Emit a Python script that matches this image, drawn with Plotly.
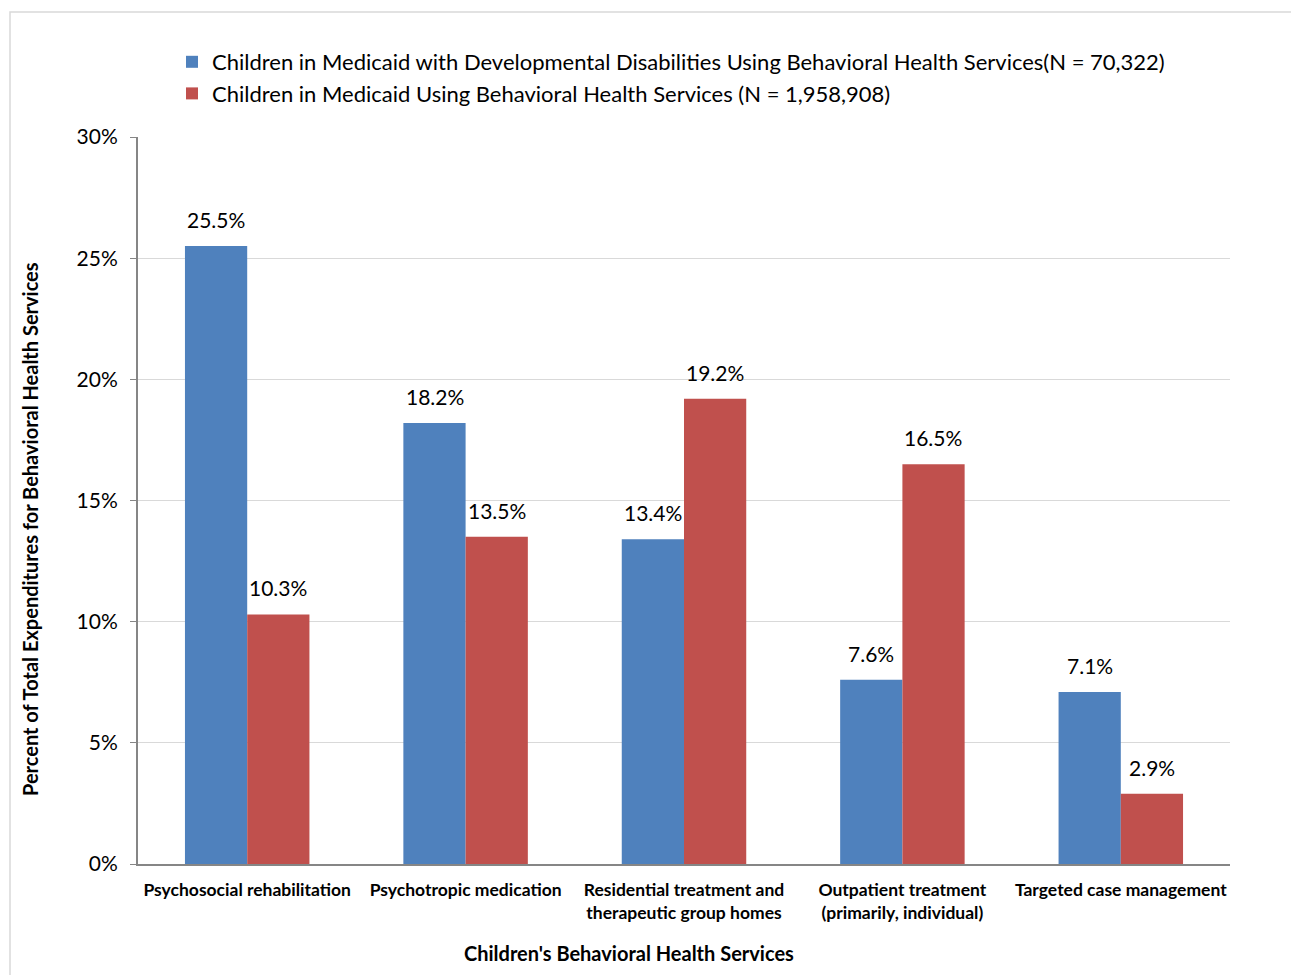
import plotly.graph_objects as go

categories = [
    "Psychosocial rehabilitation",
    "Psychotropic medication",
    "Residential treatment and<br>therapeutic group homes",
    "Outpatient treatment<br>(primarily, individual)",
    "Targeted case management",
]
dd_values = [25.5, 18.2, 13.4, 7.6, 7.1]
all_values = [10.3, 13.5, 19.2, 16.5, 2.9]
series_names = [
    "Children in Medicaid with Developmental Disabilities Using Behavioral Health Services(N = 70,322)",
    "Children in Medicaid Using Behavioral Health Services (N = 1,958,908)",
]
series_colors = ["#4F81BD", "#C0504D"]
tick_vals = [0, 5, 10, 15, 20, 25, 30]
tick_text = ["0%", "5%", "10%", "15%", "20%", "25%", "30%"]

FONT = "Lato, Carlito, Calibri, sans-serif"

W, H = 1291, 975
L, R, T, B = 138, 61, 137, 111
pw, ph = W - L - R, H - T - B
BAR_HALF = 31  # half the pixel width of one bar in a group

fig = go.Figure()
annotations = []
for i, (name, vals, color) in enumerate(zip(series_names, [dd_values, all_values], series_colors)):
    fig.add_trace(go.Bar(
        x=categories, y=vals, name=name,
        marker=dict(color=color, line=dict(width=0)),
    ))
    shift = -BAR_HALF if i == 0 else BAR_HALF
    for c, v in zip(categories, vals):
        annotations.append(dict(
            x=c, y=v, xref="x", yref="y", text=f"{v:.1f}%",
            showarrow=False, xshift=shift, yshift=12, yanchor="bottom",
            font=dict(family=FONT, size=21, color="#000000"),
        ))

# axis titles placed as free text
annotations.append(dict(
    x=(629 - L) / pw, y=1 - (953 - T) / ph, xref="paper", yref="paper",
    text="<b>Children's Behavioral Health Services</b>", showarrow=False,
    xanchor="center", yanchor="middle",
    font=dict(family=FONT, size=20, color="#000000"),
))
annotations.append(dict(
    x=(30 - L) / pw, y=1 - (529 - T) / ph, xref="paper", yref="paper",
    text="<b>Percent of Total Expenditures for Behavioral Health Services</b>",
    showarrow=False, textangle=-90, xanchor="center", yanchor="middle",
    font=dict(family=FONT, size=20, color="#000000"),
))

fig.update_layout(
    width=W, height=H,
    margin=dict(l=L, r=R, t=T, b=B),
    paper_bgcolor="white", plot_bgcolor="white",
    barmode="group", bargap=0.43, bargroupgap=0,
    font=dict(family=FONT, color="#000000"),
    showlegend=True,
    legend=dict(
        x=(172 - L) / pw, y=1 + (137 - 41) / ph, xanchor="left", yanchor="top",
        orientation="v", font=dict(family=FONT, size=22),
        itemsizing="constant", traceorder="normal",
        bgcolor="rgba(0,0,0,0)",
    ),
    xaxis=dict(
        showline=True, linecolor="#868686", linewidth=2,
        tickfont=dict(family=FONT, size=17.5, color="#000000", weight="bold"),
        ticks="", showgrid=False, ticklabelstandoff=9,
    ),
    yaxis=dict(
        range=[0, 30], tickvals=tick_vals, ticktext=tick_text,
        showline=True, linecolor="#868686", linewidth=2,
        ticks="outside", ticklen=6, tickcolor="#868686",
        showgrid=True, gridcolor="#D9D9D9", gridwidth=1,
        tickfont=dict(family=FONT, size=21, color="#000000"),
        ticklabelstandoff=8, zeroline=False,
    ),
    annotations=annotations,
    shapes=[
        dict(type="rect", xref="paper", yref="paper",
             x0=(10 - L) / pw, x1=(1310 - L) / pw,
             y0=-(H + 20 - T - ph) / ph, y1=1 + (T - 12) / ph,
             line=dict(color="#D9D9D9", width=1.5), layer="below"),
    ],
)

fig.write_html("out.html")
